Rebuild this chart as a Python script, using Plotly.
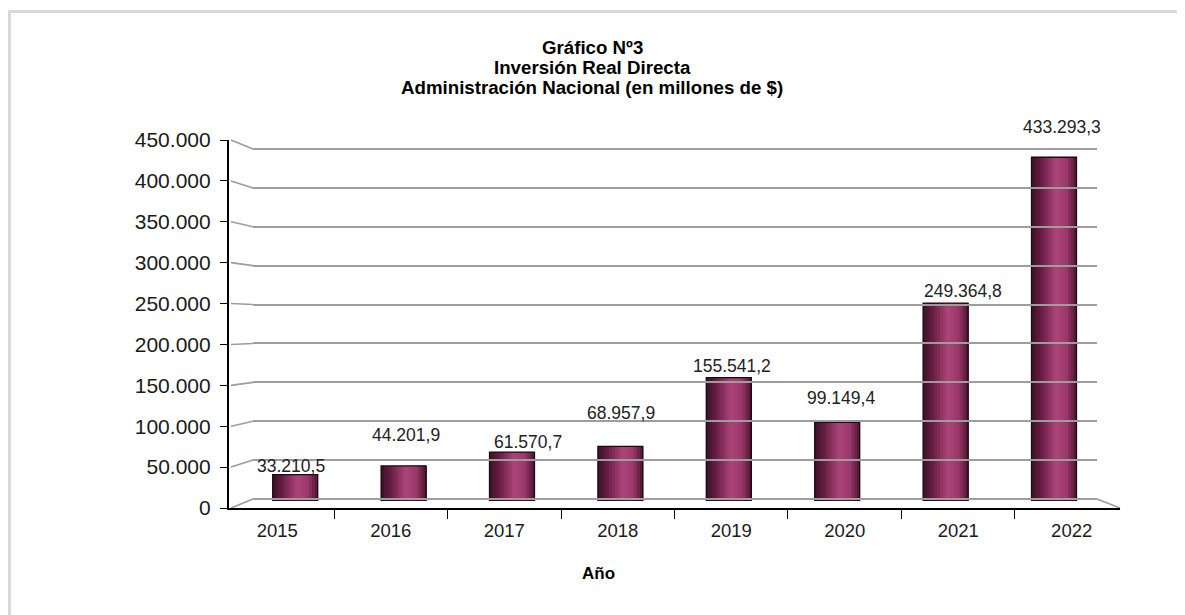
import numpy as np
import plotly.graph_objects as go
from plotly.colors import sample_colorscale

# ---------------- data ----------------
years = ["2015", "2016", "2017", "2018", "2019", "2020", "2021", "2022"]
values = [33210.5, 44201.9, 61570.7, 68957.9, 155541.2, 99149.4, 249364.8, 433293.3]
y_ticks = [0, 50000, 100000, 150000, 200000, 250000, 300000, 350000, 400000, 450000]
title_lines = ["Gráfico Nº3", "Inversión Real Directa", "Administración Nacional (en millones de $)"]
x_title = "Año"

# label nudges (px) for the data labels, as in the original
label_dx = [-4, 2, 16, 1, 3, 4, 17, 8]
label_dy = [9, 31, 10, 33, 12, 24, 12, 30]

OFF = 8                    # page body margin in the browser
FW, FH = 1185 - OFF, 615 - OFF
YMAX = 450000


def px_x(p):
    return (p - OFF) / FW


def px_y(p):
    return 1 - (p - OFF) / FH


fig = go.Figure()

# ---------------- bars (cylinder shading by bands) ----------------
xs = np.arange(len(years))
bar_w = 0.415
n_bands = 16
shade = [[0.0, "#3a1127"], [0.2, "#641c41"], [0.55, "#ad457a"], [0.78, "#9a386a"], [1.0, "#4e1531"]]
band_cols = sample_colorscale(shade, [(k + 0.5) / n_bands for k in range(n_bands)])
bw = bar_w / n_bands
for k, c in enumerate(band_cols):
    fig.add_trace(go.Bar(
        x=xs, y=values, width=bar_w - k * bw, offset=-bar_w / 2 + k * bw,
        marker=dict(color=c, line=dict(width=0)),
        xaxis="x", yaxis="y", hoverinfo="skip", showlegend=False))
fig.add_trace(go.Bar(
    x=xs, y=values, width=bar_w, offset=-bar_w / 2,
    marker=dict(color="rgba(0,0,0,0)", line=dict(color="#1c0810", width=1.3)),
    xaxis="x", yaxis="y", showlegend=False,
    hovertemplate="%{y:,.1f}<extra></extra>"))

# invisible trace for the front (category) axes
fig.add_trace(go.Scatter(x=years, y=values, mode="markers", marker=dict(opacity=0),
                         xaxis="x2", yaxis="y2", hoverinfo="skip", showlegend=False))
# invisible trace for the back wall grid
fig.add_trace(go.Scatter(x=[0, 1], y=[0, YMAX], mode="markers", marker=dict(opacity=0),
                         xaxis="x3", yaxis="y3", hoverinfo="skip", showlegend=False))

font_main = "Liberation Sans, Arial, sans-serif"

# data labels
for i, (v, dx, dy) in enumerate(zip(values, label_dx, label_dy)):
    txt = f"{v:,.1f}".replace(",", "X").replace(".", ",").replace("X", ".")
    fig.add_annotation(x=i, y=v, xref="x", yref="y", text=txt,
                       showarrow=False, xshift=dx, yshift=dy, yanchor="middle",
                       font=dict(family=font_main, size=17.5, color="#222222"))

# title lines
for s, ty in zip(title_lines, [47, 67.5, 88]):
    fig.add_annotation(x=px_x(592), y=px_y(ty), xref="paper", yref="paper", text=f"<b>{s}</b>",
                       showarrow=False, xanchor="center", yanchor="middle",
                       font=dict(family=font_main, size=18.7, color="#000000"))
# x axis title
fig.add_annotation(x=px_x(598), y=px_y(573), xref="paper", yref="paper", text=f"<b>{x_title}</b>",
                   showarrow=False, xanchor="center", yanchor="middle",
                   font=dict(family=font_main, size=17, color="#000000"))

# ---------------- geometry of the 3D frame ----------------
front_y0, front_y1 = 508, 140     # px of 0 and YMAX on the front axis
back_y0, back_y1 = 499, 149       # px of 0 and YMAX on the back wall
front_x0, front_x1 = 229, 1120
back_x0, back_x1 = 253, 1097
mid_x0, mid_x1 = 241, 1108.2
mid_y0, mid_y1 = 501, 144

# back grid axis runs a hair beyond YMAX so that its top gridline is drawn
GRID_TOP = YMAX * 1.01
back_y1_ext = back_y0 + (back_y1 - back_y0) * GRID_TOP / YMAX

grid_col = "#9d9d9d"
shapes = []
for t in y_ticks:
    fy = front_y0 + (front_y1 - front_y0) * t / YMAX
    by = back_y0 + (back_y1 - back_y0) * t / YMAX
    shapes.append(dict(type="line", xref="paper", yref="paper",
                       x0=px_x(front_x0 + 2), y0=px_y(fy), x1=px_x(back_x0), y1=px_y(by),
                       line=dict(color=grid_col, width=1.6), layer="below"))
# floor right edge
shapes.append(dict(type="line", xref="paper", yref="paper",
                   x0=px_x(back_x1), y0=px_y(back_y0), x1=px_x(front_x1), y1=px_y(front_y0),
                   line=dict(color=grid_col, width=1.6), layer="below"))
# outer frame (left and top)
shapes.append(dict(type="line", xref="paper", yref="paper", x0=px_x(9.5), y0=-0.02, x1=px_x(9.5), y1=px_y(11.5),
                   line=dict(color="#d9d9d9", width=3)))
shapes.append(dict(type="line", xref="paper", yref="paper", x0=px_x(8), y0=px_y(11.5), x1=1.01, y1=px_y(11.5),
                   line=dict(color="#d9d9d9", width=3)))

fig.update_layout(
    width=FW, height=FH, autosize=False,
    margin=dict(l=0, r=0, t=0, b=0, pad=0, autoexpand=False),
    paper_bgcolor="white", plot_bgcolor="rgba(0,0,0,0)",
    separators=",.",
    barmode="overlay",
    showlegend=False,
    font=dict(family=font_main, color="#1a1a1a"),
    shapes=shapes,
    # bars (mid plane)
    xaxis=dict(domain=[px_x(mid_x0), px_x(mid_x1)], range=[-0.5, len(years) - 0.5],
               visible=False, fixedrange=True, anchor="y", automargin=False),
    yaxis=dict(domain=[px_y(mid_y0), px_y(mid_y1)], range=[0, YMAX],
               visible=False, fixedrange=True, anchor="x", automargin=False),
    # front axes
    xaxis2=dict(domain=[px_x(front_x0), px_x(front_x1)], type="category",
                categoryorder="array", categoryarray=years, anchor="y2", automargin=False,
                showline=True, linecolor="#000000", linewidth=1.5,
                ticks="outside", tickson="boundaries", ticklen=9, tickcolor="#000000", tickwidth=1.2,
                ticklabelstandoff=5,
                showgrid=False, zeroline=False,
                tickfont=dict(family=font_main, size=18.5, color="#1a1a1a")),
    yaxis2=dict(domain=[px_y(front_y0), px_y(front_y1)], range=[0, YMAX], anchor="x2", automargin=False,
                tickvals=y_ticks, tickformat=",d",
                showline=True, linecolor="#000000", linewidth=2.2,
                ticks="outside", ticklen=7, tickcolor="#000000", tickwidth=1.2,
                ticklabelstandoff=5,
                showgrid=False, zeroline=False,
                tickfont=dict(family=font_main, size=21, color="#1a1a1a")),
    # back wall grid
    xaxis3=dict(domain=[px_x(back_x0), px_x(back_x1)], range=[0, 1], visible=False, anchor="y3",
                automargin=False),
    yaxis3=dict(domain=[px_y(back_y0), px_y(back_y1_ext)], range=[0, GRID_TOP], anchor="x3", automargin=False,
                tickvals=y_ticks, showticklabels=False, ticks="",
                showgrid=True, gridcolor=grid_col, gridwidth=1.6,
                zeroline=True, zerolinecolor=grid_col, zerolinewidth=1.6, showline=False),
)

fig.write_html("out.html")
